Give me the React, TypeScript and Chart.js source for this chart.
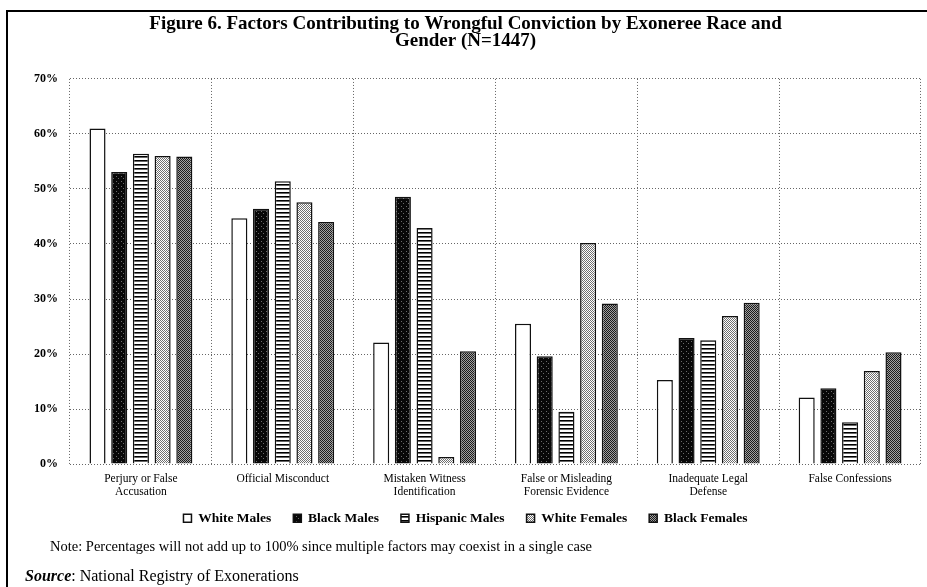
import React, { useEffect, useRef } from "react";
import { Chart, registerables } from "chart.js";

Chart.register(...registerables);

const titleLines = [
  "Figure 6. Factors Contributing to Wrongful Conviction by Exoneree Race and",
  "Gender (N=1447)",
];
const categories = [
  ["Perjury or False", "Accusation"],
  ["Official Misconduct"],
  ["Mistaken Witness", "Identification"],
  ["False or Misleading", "Forensic Evidence"],
  ["Inadequate Legal", "Defense"],
  ["False Confessions"],
];
const seriesNames = ["White Males", "Black Males", "Hispanic Males", "White Females", "Black Females"];
const whiteMales = [61.0, 44.7, 22.1, 25.5, 15.3, 12.1];
const blackMales = [53.1, 46.4, 48.6, 19.6, 22.9, 13.8];
const hispanicMales = [56.4, 51.4, 42.9, 9.5, 22.5, 7.6];
const whiteFemales = [56.0, 47.6, 1.3, 40.2, 26.9, 16.9];
const blackFemales = [55.9, 44.0, 20.5, 29.2, 29.3, 20.3];
const yMin = 0;
const yMax = 70;
const yStep = 10;
const noteText = "Note: Percentages will not add up to 100% since multiple factors may coexist in a single case";
const sourceLabel = "Source";
const sourceText = ": National Registry of Exonerations";

const SERIF = "'Liberation Serif', 'Times New Roman', serif";

function makePattern(w: number, h: number, draw: (c: CanvasRenderingContext2D) => void): CanvasPattern | string {
  const cv = document.createElement("canvas");
  cv.width = w;
  cv.height = h;
  const c = cv.getContext("2d");
  if (!c) return "#888";
  draw(c);
  const p = c.createPattern(cv, "repeat");
  return p || "#888";
}

function buildFills() {
  const white = "#ffffff";
  const black = makePattern(5, 5, (c) => {
    c.fillStyle = "#080808";
    c.fillRect(0, 0, 5, 5);
    c.fillStyle = "#6a6a6a";
    c.fillRect(1, 1, 1, 1);
    c.fillRect(3, 3, 1, 1);
  });
  const stripes = makePattern(4, 4, (c) => {
    c.fillStyle = "#ffffff";
    c.fillRect(0, 0, 4, 4);
    c.fillStyle = "#000000";
    c.fillRect(0, 0, 4, 1);
    c.fillStyle = "#666666";
    c.fillRect(0, 1, 4, 1);
  });
  const lightChecker = makePattern(2, 2, (c) => {
    c.fillStyle = "#ffffff";
    c.fillRect(0, 0, 2, 2);
    c.fillStyle = "#707070";
    c.fillRect(0, 0, 1, 1);
    c.fillRect(1, 1, 1, 1);
  });
  const darkChecker = makePattern(2, 2, (c) => {
    c.fillStyle = "#a0a0a0";
    c.fillRect(0, 0, 2, 2);
    c.fillStyle = "#1a1a1a";
    c.fillRect(0, 0, 1, 1);
    c.fillRect(1, 1, 1, 1);
  });
  return [white, black, stripes, lightChecker, darkChecker];
}

export default function App() {
  const ref = useRef<HTMLCanvasElement | null>(null);

  useEffect(() => {
    const canvas = ref.current;
    if (!canvas) return;
    const fills = buildFills();
    const values = [whiteMales, blackMales, hispanicMales, whiteFemales, blackFemales];
    const chart = new Chart(canvas, {
      type: "bar",
      data: {
        labels: categories,
        datasets: seriesNames.map((name, i) => ({
          label: name,
          data: values[i],
          backgroundColor: fills[i] as any,
          borderColor: "#111111",
          borderWidth: 1.5,
          barPercentage: 0.74,
          categoryPercentage: 0.765,
        })),
      },
      options: {
        animation: false,
        responsive: false,
        devicePixelRatio: 1,
        layout: { padding: { left: 10, right: 6, top: 15, bottom: 52 } },
        plugins: {
          title: {
            display: true,
            text: titleLines,
            color: "#000",
            font: { family: SERIF, size: 19, weight: "bold", lineHeight: 0.92 },
            padding: { top: 0, bottom: 29 },
          },
          legend: {
            display: true,
            position: "bottom",
            labels: {
              color: "#000",
              font: { family: SERIF, size: 13.5, weight: "bold" },
              boxWidth: 8,
              boxHeight: 8,
              padding: 22,
            },
          },
          tooltip: { enabled: false },
        },
        scales: {
          x: {
            grid: { display: true, color: "#666666", drawTicks: false, offset: true },
            border: { display: false, dash: [1, 2] },
            ticks: {
              color: "#000",
              font: { family: SERIF, size: 11.5, lineHeight: 1.15 },
              padding: 8,
              maxRotation: 0,
              autoSkip: false,
            },
            afterFit: (s: any) => {
              s.height = s.height - 17;
              s._computeLabelArea = () => undefined;
            },
          },
          y: {
            min: yMin,
            max: yMax,
            grid: { color: "#666666", drawTicks: false },
            border: { display: false, dash: [1, 2] },
            ticks: {
              stepSize: yStep,
              color: "#000",
              padding: 12,
              font: { family: SERIF, size: 12, weight: "bold" },
              callback: (v: any) => `${v}%`,
            },
            afterFit: (s: any) => {
              s.width = 60;
            },
          },
        },
      },
    } as any);
    return () => chart.destroy();
  }, []);

  return (
    <div style={{ position: "fixed", left: 0, top: 0, width: 927, height: 587, background: "#fff", overflow: "hidden" }}>
      <div
        style={{
          position: "absolute",
          left: 6,
          top: 10,
          width: 940,
          height: 600,
          borderTop: "2px solid #000",
          borderLeft: "2px solid #000",
        }}
      />
      <canvas ref={ref} width={927} height={587} style={{ position: "absolute", left: 0, top: 0, width: 927, height: 587 }} />
      <div
        style={{
          position: "absolute",
          left: 50,
          top: 538,
          fontFamily: SERIF,
          fontSize: 14.5,
          color: "#000",
          whiteSpace: "nowrap",
        }}
      >
        {noteText}
      </div>
      <div
        style={{
          position: "absolute",
          left: 25,
          top: 567,
          fontFamily: SERIF,
          fontSize: 16,
          color: "#000",
          whiteSpace: "nowrap",
        }}
      >
        <b>
          <i>{sourceLabel}</i>
        </b>
        {sourceText}
      </div>
    </div>
  );
}
